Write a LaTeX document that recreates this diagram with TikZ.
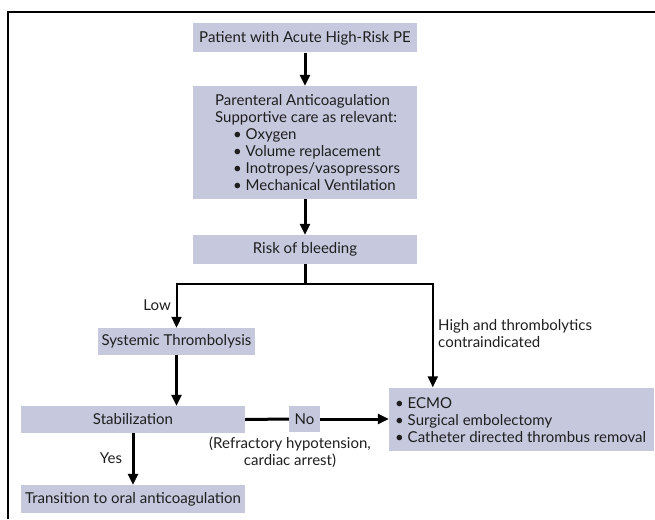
\documentclass[tikz,border=0pt]{standalone}
\usepackage{fontspec}
\setmainfont{Lato}
\usetikzlibrary{arrows.meta}
\definecolor{boxfill}{RGB}{198,200,222}
\definecolor{txt}{RGB}{30,30,30}
\begin{document}
\begin{tikzpicture}[x=1pt,y=-1pt,
  every node/.style={font=\fontsize{15}{17}\selectfont, text=txt},
  box/.style={fill=boxfill, inner sep=0pt},
  lbl/.style={inner sep=0pt},
  bigarrow/.style={line width=3pt, -{Triangle[length=11pt,width=10pt]}},
  smallarrow/.style={line width=2pt, -{Triangle[length=11pt,width=10pt]}}]
\useasboundingbox (0,0) rectangle (655,519);
\draw[line width=2pt] (8,519) -- (8,12) -- (655,12);

\node[box, minimum width=224pt, minimum height=29pt] (b1) at (305,38) {Patient with Acute High-Risk PE};
\node[box, minimum width=224pt, minimum height=113pt] (b2) at (305,142.5) {};
\node[lbl, anchor=west, align=left] (b2t) at (215,143) {Parenteral Anticoagulation\\
Supportive care as relevant:\\
\hspace*{18pt}\textbullet\ Oxygen\\
\hspace*{18pt}\textbullet\ Volume replacement\\
\hspace*{18pt}\textbullet\ Inotropes/vasopressors\\
\hspace*{18pt}\textbullet\ Mechanical Ventilation};
\node[box, minimum width=224pt, minimum height=29pt] (b3) at (305,249.5) {Risk of bleeding};
\node[box, minimum width=157pt, minimum height=27pt] (syst) at (176.5,341.5) {Systemic Thrombolysis};
\node[box, minimum width=224pt, minimum height=27pt] (stab) at (133,419.5) {Stabilization};
\node[box, minimum width=31pt, minimum height=26pt] (no) at (304.5,419) {No};
\node[box, minimum width=265pt, minimum height=63pt] (ecmo) at (521.5,419) {};
\node[lbl, anchor=west, align=left] (ecmot) at (395,420) {\textbullet\ ECMO\\
\textbullet\ Surgical embolectomy\\
\textbullet\ Catheter directed thrombus removal};
\node[box, minimum width=224pt, minimum height=28pt] (trans) at (133,499) {Transition to oral anticoagulation};

\node[lbl, anchor=east] (low) at (171,305) {Low};
\node[lbl] (yes) at (111,458) {Yes};
\node[lbl, anchor=west, align=left] (high) at (438,334) {High and thrombolytics\\contraindicated};
\node[lbl, align=center] (refr) at (290,452) {(Refractory hypotension,\\cardiac arrest)};

\coordinate (br) at (305,284);
\coordinate (ecmoin) at ([xshift=44pt]ecmo.north west);

\draw[bigarrow] (b1.south) -- (b2.north);
\draw[bigarrow] (b2.south) -- (b3.north);
\draw[line width=3pt] (b3.south) -- (br);
\draw[smallarrow] (br) -| (syst.north);
\draw[smallarrow] (br) -| (ecmoin);
\draw[bigarrow] (syst.south) -- (syst.south |- stab.north);
\draw[line width=3pt] (stab.east) -- (no.west);
\draw[bigarrow] (no.east) -- (no.east -| ecmo.west);
\draw[bigarrow] (stab.south) -- (trans.north);
\end{tikzpicture}
\end{document}
